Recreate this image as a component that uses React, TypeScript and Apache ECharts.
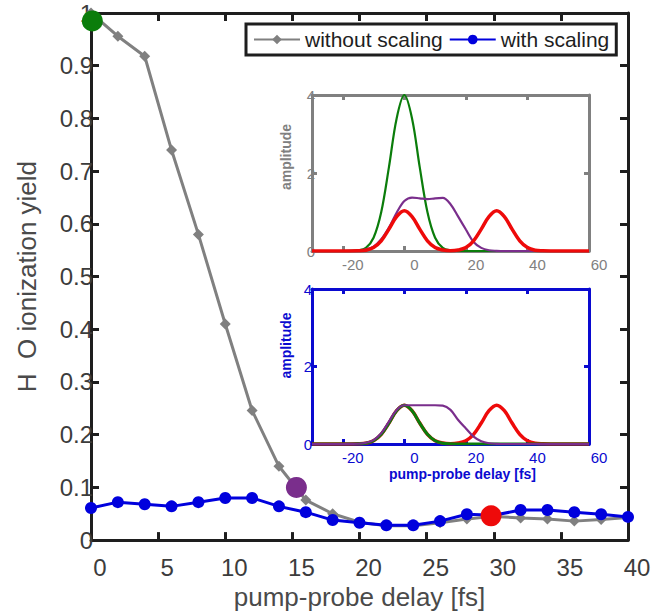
import React, { useEffect, useRef } from "react";
import * as echarts from "echarts";

// ---- main panel data ----
const delays = [0, 2, 4, 6, 8, 10, 12, 14, 16, 18, 20, 22, 24, 26, 28, 30, 32, 34, 36, 38, 40];
const withoutScaling = [1.0, 0.956, 0.918, 0.74, 0.58, 0.41, 0.246, 0.14, 0.076, 0.05, 0.034, 0.027, 0.027, 0.033, 0.04, 0.045, 0.042, 0.04, 0.036, 0.039, 0.043];
const withScaling = [0.061, 0.072, 0.068, 0.064, 0.072, 0.08, 0.08, 0.064, 0.053, 0.038, 0.033, 0.028, 0.028, 0.036, 0.049, 0.047, 0.057, 0.057, 0.053, 0.049, 0.044];
const markGreen = [0.1, 0.985];
const markPurple = [15.3, 0.1];
const markRed = [29.8, 0.046];
const mainXTicks = [0, 40, 5];
const mainYTicks = [0, 1, 0.1];

// ---- inset data (pulse shapes) ----
const pulseTime = [-30, -27.5, -25, -22.5, -20, -17.5, -15, -12.5, -10, -7.5, -5, -2.5, 0, 2.5, 5, 7.5, 10, 12.5, 15, 17.5, 20, 22.5, 25, 27.5, 30, 32.5, 35, 37.5, 40, 42.5, 45, 47.5, 50, 52.5, 55, 57.5, 60];
const greenUnscaled = [0, 0, 0, 0, 0, 0.002, 0.016, 0.08, 0.34, 1.0, 2.15, 3.4, 4.0, 3.4, 2.15, 1.0, 0.34, 0.08, 0.016, 0.002, 0, 0, 0, 0, 0, 0, 0, 0, 0, 0, 0, 0, 0, 0, 0, 0, 0];
const purpleUnscaled = [0, 0, 0, 0, 0, 0.003, 0.01, 0.04, 0.11, 0.3, 0.6, 0.98, 1.28, 1.37, 1.35, 1.33, 1.35, 1.36, 1.2, 0.88, 0.55, 0.23, 0.08, 0.02, 0.005, 0, 0, 0, 0, 0, 0, 0, 0, 0, 0, 0, 0];
const redUnscaled = [0, 0, 0, 0, 0, 0, 0.004, 0.02, 0.087, 0.26, 0.56, 0.88, 1.03, 0.88, 0.56, 0.26, 0.087, 0.025, 0.008, 0.025, 0.087, 0.26, 0.56, 0.88, 1.03, 0.88, 0.56, 0.26, 0.087, 0.02, 0.004, 0, 0, 0, 0, 0, 0];
const redScaled = [0, 0, 0, 0, 0, 0, 0.004, 0.02, 0.085, 0.25, 0.54, 0.86, 1.0, 0.86, 0.54, 0.25, 0.085, 0.024, 0.008, 0.024, 0.085, 0.25, 0.54, 0.86, 1.0, 0.86, 0.54, 0.25, 0.085, 0.02, 0.004, 0, 0, 0, 0, 0, 0];
const greenScaled = [0, 0, 0, 0, 0, 0.001, 0.004, 0.02, 0.085, 0.25, 0.54, 0.86, 1.0, 0.86, 0.54, 0.25, 0.085, 0.02, 0.004, 0.001, 0, 0, 0, 0, 0, 0, 0, 0, 0, 0, 0, 0, 0, 0, 0, 0, 0];
const purpleScaled = [0, 0, 0, 0, 0, 0.002, 0.006, 0.03, 0.1, 0.28, 0.58, 0.88, 1.0, 1.0, 1.0, 1.0, 1.0, 0.99, 0.88, 0.62, 0.4, 0.19, 0.07, 0.02, 0.005, 0, 0, 0, 0, 0, 0, 0, 0, 0, 0, 0, 0];
const insetXTicks = [-20, 0, 20, 40, 60];
const insetXRange = [-30, 60];
const insetYTicks = [0, 4, 2];

const GRAY = "#808080";
const BLUE = "#0000dd";
const INSET_BLUE = "#0a0ad0";
const GREEN = "#0b7d0b";
const PURPLE = "#7a2e8c";
const RED = "#ee0a0a";
const DARK = "#1e1e1e";

const pair = (xs: number[], ys: number[]) => xs.map((x, i) => [x, ys[i]]);

export default function App() {
  const ref = useRef<HTMLDivElement>(null);
  useEffect(() => {
    if (!ref.current) return;
    const chart = echarts.init(ref.current, undefined, { renderer: "svg" });

    const line = (color: string) => ({ show: true, onZero: false, lineStyle: { color, width: 3 } });
    const tick = (color: string, length: number, custom?: number[]) => ({
      show: true,
      inside: true,
      length,
      ...(custom ? { customValues: custom } : {}),
      lineStyle: { color, width: 3 },
    });

    const insetX = (grid: number, color: string, withName: boolean) => [
      {
        type: "value",
        gridIndex: grid,
        min: insetXRange[0],
        max: insetXRange[1],
        splitLine: { show: false },
        axisLine: line(color),
        axisTick: tick(color, 5, insetXTicks),
        axisLabel: { show: true, customValues: insetXTicks, color, fontSize: 15, margin: 6, padding: [0, 0, 0, 20] },
        ...(withName
          ? {
              name: "pump-probe delay [fs]",
              nameLocation: "middle",
              nameGap: 23,
              nameTextStyle: { color, fontSize: 14, fontWeight: "bold", padding: [0, 0, 0, 24] },
            }
          : {}),
      },
      {
        type: "value",
        gridIndex: grid,
        position: "top",
        min: insetXRange[0],
        max: insetXRange[1],
        splitLine: { show: false },
        axisLine: line(color),
        axisTick: tick(color, 5, insetXTicks),
        axisLabel: { show: false },
      },
    ];
    const insetY = (grid: number, color: string, margin: number, shiftUp: number) => [
      {
        type: "value",
        gridIndex: grid,
        min: insetYTicks[0],
        max: insetYTicks[1],
        interval: insetYTicks[2],
        splitLine: { show: false },
        axisLine: line(color),
        axisTick: tick(color, 5),
        axisLabel: { color, fontSize: 15, margin, padding: [4, 0, 0, 0] },
        name: "amplitude",
        nameLocation: "middle",
        nameGap: 19,
        nameTextStyle: { color, fontSize: 14, fontWeight: "bold", padding: [0, 0, 0, shiftUp] },
      },
      {
        type: "value",
        gridIndex: grid,
        position: "right",
        min: insetYTicks[0],
        max: insetYTicks[1],
        interval: insetYTicks[2],
        splitLine: { show: false },
        axisLine: line(color),
        axisTick: tick(color, 5),
        axisLabel: { show: false },
      },
    ];

    const curve = (name: string, data: number[], color: string, width: number, xi: number, yi: number, z: number) => ({
      name,
      type: "line",
      xAxisIndex: xi,
      yAxisIndex: yi,
      data: pair(pulseTime, data),
      showSymbol: false,
      smooth: 0.35,
      lineStyle: { color, width },
      itemStyle: { color },
      z,
      silent: true,
    });

    const option: any = {
      animation: false,
      backgroundColor: "#ffffff",
      textStyle: { fontFamily: "Liberation Sans, Arial, Helvetica, sans-serif" },
      legend: {
        data: ["without scaling", "with scaling"],
        left: 246,
        top: 24,
        orient: "horizontal",
        backgroundColor: "#ffffff",
        borderColor: DARK,
        borderWidth: 3,
        borderRadius: 0,
        padding: [5, 7, 5, 7],
        itemWidth: 46,
        itemHeight: 12,
        itemGap: 6,
        textStyle: { fontSize: 21, color: DARK },
        z: 10,
      },
      grid: [
        { left: 91, top: 13, width: 537, height: 528, show: false },
        { left: 312, top: 95, width: 277, height: 156, show: false },
        { left: 312, top: 289, width: 277, height: 155, show: false },
      ],
      xAxis: [
        {
          type: "value",
          gridIndex: 0,
          min: mainXTicks[0],
          max: mainXTicks[1],
          interval: mainXTicks[2],
          splitLine: { show: false },
          axisLine: line(DARK),
          axisTick: tick(DARK, 8),
          axisLabel: { color: "#3c3c3c", fontSize: 24, margin: 15, padding: [0, 0, 0, 18] },
          name: "pump-probe delay [fs]",
          nameLocation: "middle",
          nameGap: 38,
          nameTextStyle: { color: "#4a4a4a", fontSize: 26 },
        },
        {
          type: "value",
          gridIndex: 0,
          position: "top",
          min: mainXTicks[0],
          max: mainXTicks[1],
          interval: mainXTicks[2],
          splitLine: { show: false },
          axisLine: line(DARK),
          axisTick: tick(DARK, 8),
          axisLabel: { show: false },
        },
        ...insetX(1, GRAY, false),
        ...insetX(2, INSET_BLUE, true),
      ],
      yAxis: [
        {
          type: "value",
          gridIndex: 0,
          min: mainYTicks[0],
          max: mainYTicks[1],
          interval: mainYTicks[2],
          splitLine: { show: false },
          axisLine: line(DARK),
          axisTick: tick(DARK, 8),
          axisLabel: { color: "#3c3c3c", fontSize: 24, margin: -2, padding: [6, 0, 0, 0] },
          name: "H  O ionization yield",
          nameLocation: "middle",
          nameGap: 51,
          nameTextStyle: { color: "#4a4a4a", fontSize: 26 },
        },
        {
          type: "value",
          gridIndex: 0,
          position: "right",
          min: mainYTicks[0],
          max: mainYTicks[1],
          interval: mainYTicks[2],
          splitLine: { show: false },
          axisLine: line(DARK),
          axisTick: tick(DARK, 8),
          axisLabel: { show: false },
        },
        ...insetY(1, GRAY, -3, 32),
        ...insetY(2, INSET_BLUE, 0, 42),
      ],
      series: [
        {
          name: "without scaling",
          type: "line",
          xAxisIndex: 0,
          yAxisIndex: 0,
          data: pair(delays, withoutScaling),
          symbol: "diamond",
          symbolSize: 11,
          lineStyle: { color: GRAY, width: 3 },
          itemStyle: { color: GRAY },
          clip: false,
          z: 3,
        },
        {
          name: "with scaling",
          type: "line",
          xAxisIndex: 0,
          yAxisIndex: 0,
          data: pair(delays, withScaling),
          symbol: "circle",
          symbolSize: 12,
          lineStyle: { color: BLUE, width: 3 },
          itemStyle: { color: BLUE },
          clip: false,
          z: 4,
        },
        {
          type: "scatter",
          xAxisIndex: 0,
          yAxisIndex: 0,
          data: [markGreen],
          symbolSize: 21,
          itemStyle: { color: GREEN, opacity: 1 },
          clip: false,
          z: 5,
        },
        {
          type: "scatter",
          xAxisIndex: 0,
          yAxisIndex: 0,
          data: [markPurple],
          symbolSize: 21,
          itemStyle: { color: PURPLE, opacity: 1 },
          clip: false,
          z: 5,
        },
        {
          type: "scatter",
          xAxisIndex: 0,
          yAxisIndex: 0,
          data: [markRed],
          symbolSize: 21,
          itemStyle: { color: RED, opacity: 1 },
          clip: false,
          z: 5,
        },
        curve("green unscaled", greenUnscaled, GREEN, 2.2, 2, 2, 2),
        curve("purple unscaled", purpleUnscaled, PURPLE, 2.2, 2, 2, 3),
        curve("red unscaled", redUnscaled, RED, 3.5, 2, 2, 4),
        curve("red scaled", redScaled, RED, 3.5, 4, 4, 2),
        curve("green scaled", greenScaled, GREEN, 3, 4, 4, 3),
        curve("purple scaled", purpleScaled, PURPLE, 2.2, 4, 4, 4),
      ],
    };
    chart.setOption(option);
    return () => chart.dispose();
  }, []);
  return <div ref={ref} style={{ position: "fixed", left: 0, top: 0, width: 664, height: 615 }} />;
}
